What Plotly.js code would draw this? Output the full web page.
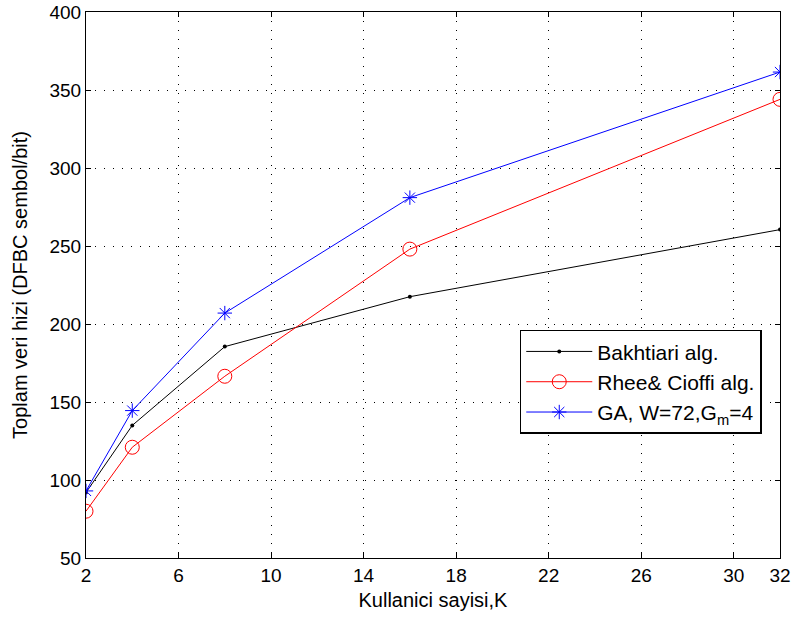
<!DOCTYPE html>
<html>
<head>
<meta charset="utf-8">
<script src="https://cdn.plot.ly/plotly-3.0.1.min.js"></script>
<style>html,body{margin:0;padding:0;background:#fff;}#chart{width:794px;height:619px;}</style>
</head>
<body>
<div id="chart"></div>
<script>
const users = [2, 4, 8, 16, 32];
const bakhtiari = [92, 135, 185.5, 217.5, 260.5];
const rheeCioffi = [80, 121, 166.5, 248, 344];
const gaW72 = [93, 144.5, 207, 281, 361.5];
const xTicks = [2, 6, 10, 14, 18, 22, 26, 30, 32];
const yTicks = [50, 100, 150, 200, 250, 300, 350, 400];
const seriesNames = ['Bakhtiari alg.', 'Rhee& Cioffi alg.', 'GA, W=72,G<sub>m</sub>=4'];

const traces = [
  {x: users, y: bakhtiari, name: seriesNames[0], mode: 'lines+markers',
   line: {color: '#000000', width: 1}, marker: {symbol: 'circle', size: 4, color: '#000000'}},
  {x: users, y: rheeCioffi, name: seriesNames[1], mode: 'lines+markers',
   line: {color: '#ff0000', width: 1}, marker: {symbol: 'circle-open', size: 14, color: '#ff0000', line: {width: 1}}},
  {x: users, y: gaW72, name: seriesNames[2], mode: 'lines+markers',
   line: {color: '#0000ff', width: 1}, marker: {symbol: 'asterisk-open', size: 12, color: '#0000ff', line: {width: 1, color: '#0000ff'}}}
];

const FONT = 'Liberation Sans, Arial, sans-serif';
const axisCommon = {
  showline: true, linecolor: '#000', linewidth: 1, mirror: 'ticks',
  ticks: 'inside', ticklen: 5, tickcolor: '#000',
  showgrid: true, gridcolor: '#000', griddash: '1px,8px', gridwidth: 1,
  zeroline: false, tickfont: {family: FONT, size: 19, color: '#000'}
};

const layout = {
  width: 794, height: 619,
  margin: {l: 86, r: 14, t: 12, b: 61},
  paper_bgcolor: '#fff', plot_bgcolor: '#fff',
  showlegend: true,
  xaxis: Object.assign({}, axisCommon, {
    range: [2, 32], tickmode: 'array', tickvals: xTicks, ticktext: xTicks.map(String),
    ticklabelstandoff: 0,
    title: {text: 'Kullanici sayisi,K', font: {family: FONT, size: 20, color: '#000'}, standoff: 8}
  }),
  yaxis: Object.assign({}, axisCommon, {
    range: [50, 400], tickmode: 'array', tickvals: yTicks, ticktext: yTicks.map(String),
    title: {text: 'Toplam veri hizi (DFBC sembol/bit)', font: {family: FONT, size: 20, color: '#000'}, standoff: 16}
  }),
  legend: {
    x: 0.625, y: 0.418, xanchor: 'left', yanchor: 'top',
    bgcolor: '#fff', bordercolor: '#000', borderwidth: 1.5,
    font: {family: FONT, size: 21, color: '#000'},
    itemwidth: 66, tracegroupgap: 0
  }
};

Plotly.newPlot('chart', traces, layout, {displayModeBar: false, staticPlot: true});
</script>
</body>
</html>
